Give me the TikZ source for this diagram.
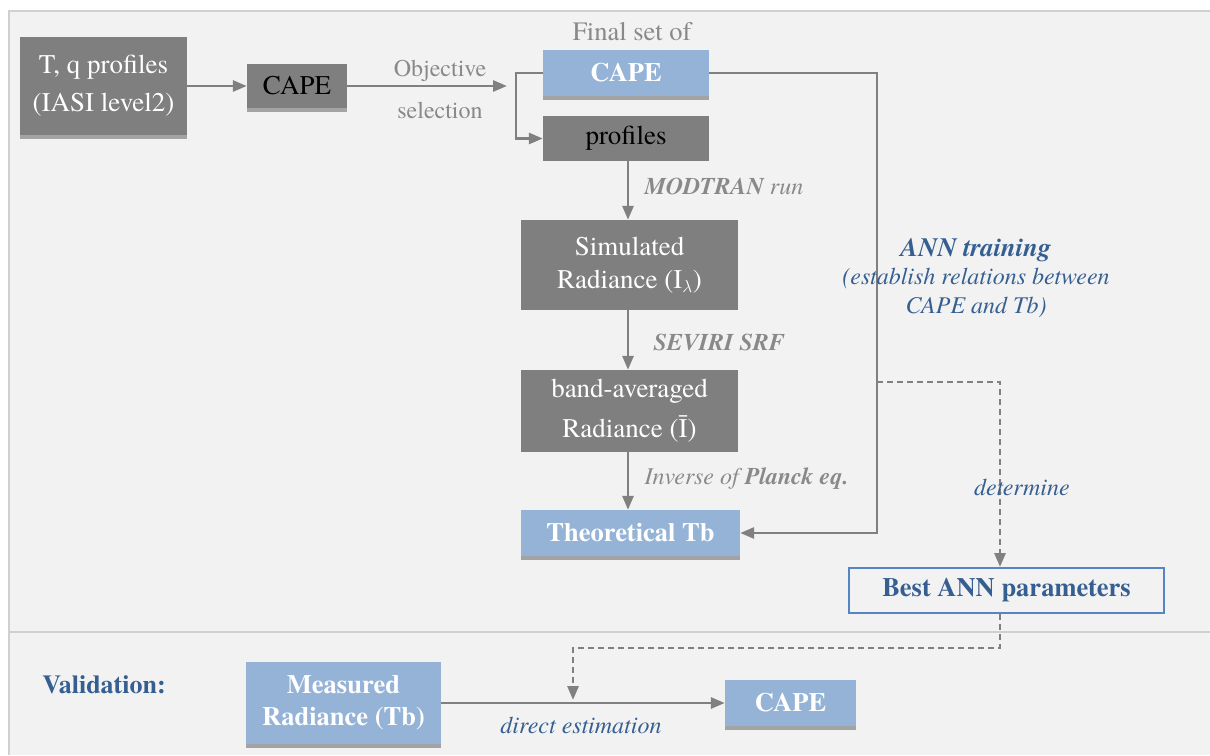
\documentclass[tikz,border=0pt]{standalone}
\usepackage{fontspec}
\setmainfont{TeX Gyre Termes}
\usetikzlibrary{arrows.meta}

\definecolor{boxgray}{HTML}{7F7F7F}
\definecolor{shadowgray}{HTML}{A3A3A3}
\definecolor{boxblue}{HTML}{95B3D7}
\definecolor{linegray}{HTML}{808080}
\definecolor{labelgray}{HTML}{898989}
\definecolor{textblue}{HTML}{365F91}
\definecolor{bestline}{HTML}{5585C5}
\definecolor{panelbg}{HTML}{F2F2F2}
\definecolor{panelline}{HTML}{D0D0D0}

% grey strip under a box
\newcommand{\boxshadow}[1]{\fill[shadowgray] (#1.south west) rectangle ([yshift=-4pt]#1.south east);}

\begin{document}
\begin{tikzpicture}[x=1pt, y=-1pt,
  graybox/.style={fill=boxgray, text=white, inner sep=0pt, align=center, font=\fontsize{27}{33}\selectfont},
  bluebox/.style={fill=boxblue, text=white, inner sep=0pt, align=center, font=\fontsize{26.5}{32}\selectfont\bfseries},
  conn/.style={draw=linegray, line width=2.8pt, -{Triangle[length=14pt,width=11pt]}},
  dashconn/.style={conn, dash pattern=on 6pt off 4pt},
  note/.style={text=labelgray, font=\fontsize{24}{28}\selectfont},
  bluenote/.style={text=textblue, font=\fontsize{24}{28.5}\selectfont\itshape}]

% Background panels
\useasboundingbox (0,0) rectangle (1210,755);
\fill[panelbg] (9,11) rectangle (1210,755);
\draw[panelline, line width=2pt] (1210,11) -- (9,11) -- (9,755);
\draw[panelline, line width=2pt] (9,632) -- (1210,632);

% Training part
\node[graybox, minimum width=167pt, minimum height=98pt, font=\fontsize{27}{38}\selectfont] (tq) at (103.5,86) {T, q profiles\\(IASI level2)};
\node[graybox, text=black, minimum width=100pt, minimum height=44pt] (cape1) at (297,86) {CAPE};
\node[bluebox, minimum width=166pt, minimum height=46pt] (capefin) at (626,73) {CAPE};
\node[graybox, text=black, minimum width=166pt, minimum height=45pt] (prof) at (626,138.5) {profiles};
\node[graybox, minimum width=217pt, minimum height=90pt] (sim) at (629.5,265) {Simulated\\Radiance (I$_{\lambda}$)};
\node[graybox, minimum width=217pt, minimum height=82pt, font=\fontsize{27}{40}\selectfont] (band) at (629.5,411) {band-averaged\\Radiance (Ī)};
\node[bluebox, minimum width=219pt, minimum height=46pt] (theo) at (630.5,533) {Theoretical Tb};
\node[fill=panelbg, draw=bestline, line width=2pt, text=textblue, inner sep=0pt, minimum width=315pt, minimum height=45pt,
  font=\fontsize{26.5}{30}\selectfont\bfseries] (best) at (1006.5,590.5) {Best ANN parameters};
\boxshadow{tq}
\boxshadow{cape1}
\boxshadow{capefin}
\boxshadow{theo}

% Validation part
\node[text=textblue, font=\fontsize{26}{30}\selectfont\bfseries] (valid) at (104,685) {Validation:};
\node[bluebox, minimum width=195pt, minimum height=82pt] (meas) at (343.5,703) {Measured\\Radiance (Tb)};
\node[bluebox, minimum width=131pt, minimum height=46pt] (cape2) at (790.5,703) {CAPE};
\boxshadow{meas}
\boxshadow{cape2}

% Connectors
\coordinate (selend) at (507,86);
\coordinate (fork) at (516,73);
\coordinate (loopx) at (877,73);
\coordinate (dsplit) at (877,382);
\coordinate (dturn) at (1000,382);
\coordinate (dlow) at (1000,648);
\coordinate (dleft) at (573,648);
\coordinate (dtip) at (573,700);

\draw[conn] (tq.east |- cape1.west) -- (cape1.west);
\draw[conn] (cape1.east) -- (selend);
\draw[conn] (capefin.west) -- (fork) |- (prof.west);
\draw[conn] (prof.south -| 628,0) -- (sim.north -| 628,0);
\draw[conn] (sim.south -| 628,0) -- (band.north -| 628,0);
\draw[conn] (band.south -| 628,0) -- (theo.north -| 628,0);
\draw[conn] (capefin.east) -- (loopx) |- (theo.east);
\draw[dashconn] (dsplit) -- (dturn) -- (dturn |- best.north);
\draw[dashconn] (dturn |- best.south) -- (dlow) -- (dleft) -- (dtip);
\draw[conn] (meas.east) -- (cape2.west);

% Labels
\node[note, font=\fontsize{26.5}{30}\selectfont] (finlab) at (632,32) {Final set of};
\node[note] (objlab) at (440,71) {Objective};
\node[note] (sellab) at (440,110) {selection};
\node[note, anchor=west, font=\fontsize{24}{28}\selectfont\itshape] (modlab) at (641,186) {\textbf{MODTRAN} run};
\node[note, anchor=west, font=\fontsize{24}{28}\selectfont\itshape\bfseries] (sevlab) at (650,342) {SEVIRI SRF};
\node[note, anchor=west, font=\fontsize{24}{28}\selectfont\itshape] (planklab) at (641,479) {Inverse of \textbf{Planck eq.}};
\node[bluenote, align=center] (annlab) at (976,278) {{\fontsize{26.5}{28.5}\selectfont\bfseries ANN training}\\(establish relations between\\CAPE and Tb)};
\node[bluenote] (detlab) at (1022,487) {determine};
\node[bluenote] (dirlab) at (581,725) {direct estimation};
\end{tikzpicture}
\end{document}
